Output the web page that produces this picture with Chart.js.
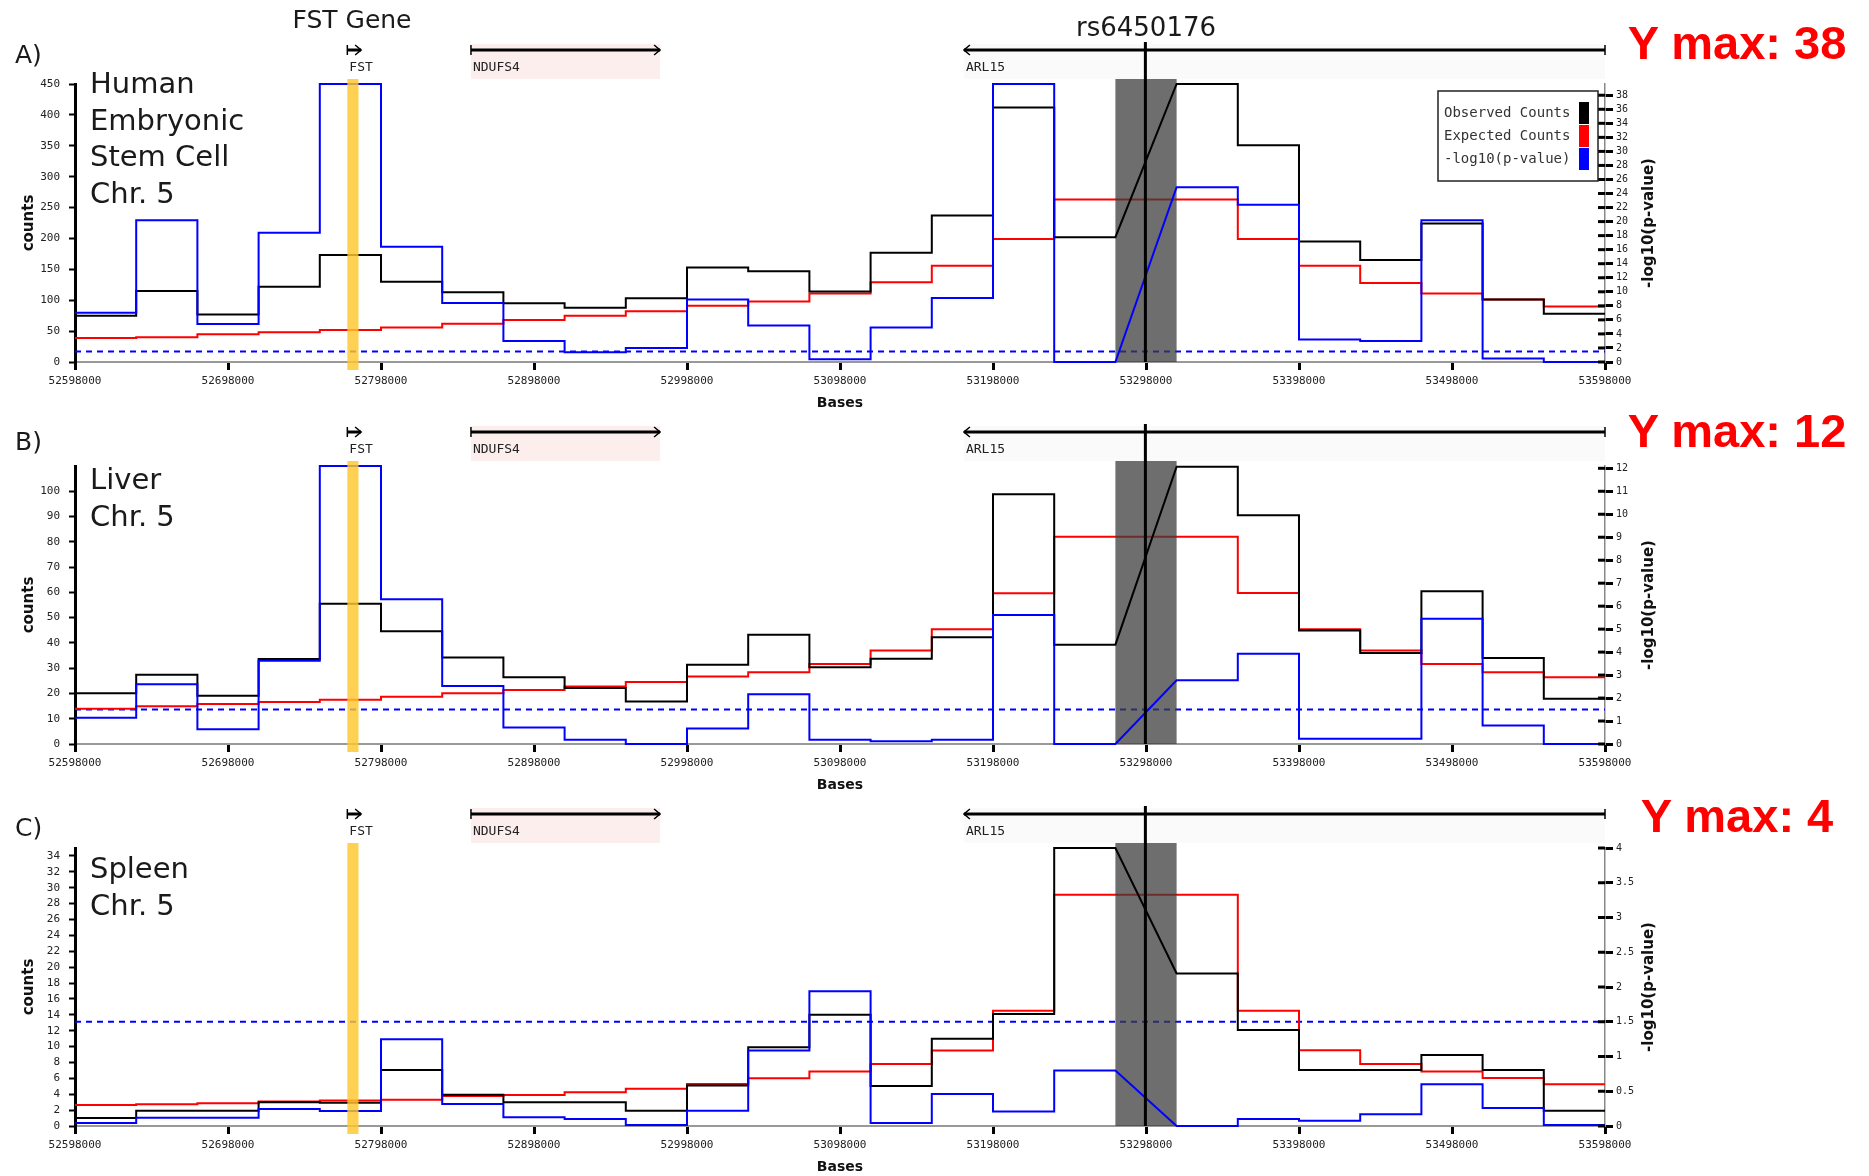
<!DOCTYPE html>
<html>
<head>
<meta charset="utf-8">
<script src="https://cdn.jsdelivr.net/npm/chart.js@4.4.1/dist/chart.umd.min.js"></script>
<style>
  body { margin: 0; width: 1869px; height: 1176px; overflow: hidden; background: #fff; position: relative; }
  canvas { position: absolute; left: 0; }
  .lbl { position: absolute; font-family: "DejaVu Sans", sans-serif; color: #1a1a1a; line-height: 1; white-space: nowrap; }
  .tissue { font-size: 29px; line-height: 36.7px; left: 90px; }
  .ymax { font-family: "Liberation Sans", Arial, sans-serif; font-weight: bold; color: #f00; font-size: 47px; width: 300px; left: 1587px; text-align: center; }
</style>
</head>
<body>
<canvas id="chartA" width="1869" height="412" style="top:0px"></canvas>
<canvas id="chartB" width="1869" height="394" style="top:400px"></canvas>
<canvas id="chartC" width="1869" height="386" style="top:790px"></canvas>

<div class="lbl" style="left:252px;width:200px;text-align:center;top:7px;font-size:25px">FST Gene</div>
<div class="lbl" style="left:1046px;width:200px;text-align:center;top:14px;font-size:26px">rs6450176</div>

<div class="lbl" style="left:15px;top:42px;font-size:25px">A)</div>
<div class="lbl" style="left:15px;top:429px;font-size:25px">B)</div>
<div class="lbl" style="left:15px;top:815px;font-size:25px">C)</div>

<div class="lbl tissue" style="top:65px">Human<br>Embryonic<br>Stem Cell<br>Chr. 5</div>
<div class="lbl tissue" style="top:461px">Liver<br>Chr. 5</div>
<div class="lbl tissue" style="top:850px">Spleen<br>Chr. 5</div>

<div class="lbl ymax" style="top:19px">Y max: 38</div>
<div class="lbl ymax" style="top:407px">Y max: 12</div>
<div class="lbl ymax" style="top:792px">Y max: 4</div>

<script>
  // 25 bins of 40 kb on chr5, bin 17 (the SNP bin) has no value
  const binStarts = [52598000, 52638000, 52678000, 52718000, 52758000, 52798000, 52838000, 52878000,
    52918000, 52958000, 52998000, 53038000, 53078000, 53118000, 53158000, 53198000, 53238000,
    53278000, 53318000, 53358000, 53398000, 53438000, 53478000, 53518000, 53558000];
  const binWidth = 40000;

  const xTicks = [52598000, 52698000, 52798000, 52898000, 52998000, 53098000, 53198000,
    53298000, 53398000, 53498000, 53598000];

  const seriesNames = ['Observed Counts', 'Expected Counts', '-log10(p-value)'];
  const seriesColors = ['#000000', '#ff0000', '#0000ff'];
  const pThreshold = 1.5;

  // A) human embryonic stem cell
  const obsA = [75, 115, 77, 122, 173, 130, 113, 95, 88, 103, 153, 147, 114, 177, 237, 412, 202, null, 450, 351, 195, 165, 224, 101, 78];
  const expA = [39, 40, 45, 48, 52, 56, 62, 68, 75, 82, 91, 98, 111, 129, 156, 199, 263, null, 263, 199, 156, 128, 111, 101, 90];
  const pA = [7.0, 20.2, 5.4, 18.4, 39.6, 16.4, 8.4, 3.0, 1.4, 2.0, 8.9, 5.2, 0.4, 4.9, 9.1, 39.6, 0, null, 24.9, 22.4, 3.2, 3.0, 20.2, 0.5, 0];
  const leftTicksA = [0, 50, 100, 150, 200, 250, 300, 350, 400, 450];
  const rightTicksA = [0, 2, 4, 6, 8, 10, 12, 14, 16, 18, 20, 22, 24, 26, 28, 30, 32, 34, 36, 38];

  // B) liver
  const obsB = [20.1, 27.4, 19.1, 33.6, 55.5, 44.6, 34.2, 26.4, 22.2, 16.8, 31.4, 43.2, 30.4, 33.7, 42.2, 98.8, 39.3, null, 109.7, 90.5, 44.9, 36, 60.4, 34, 17.9];
  const expB = [13.9, 14.9, 15.8, 16.6, 17.5, 18.7, 20.1, 21.4, 22.8, 24.5, 26.7, 28.4, 31.7, 37, 45.4, 59.6, 82, null, 82, 59.7, 45.4, 37, 31.7, 28.4, 26.4];
  const pB = [1.14, 2.6, 0.64, 3.62, 12.1, 6.3, 2.52, 0.72, 0.19, 0, 0.67, 2.16, 0.19, 0.12, 0.19, 5.62, 0, null, 2.77, 3.93, 0.23, 0.23, 5.45, 0.81, 0];
  const leftTicksB = [0, 10, 20, 30, 40, 50, 60, 70, 80, 90, 100];
  const rightTicksB = [0, 1, 2, 3, 4, 5, 6, 7, 8, 9, 10, 11, 12];

  // C) spleen
  const obsC = [1.0, 1.93, 1.93, 2.98, 2.94, 7.06, 3.95, 2.98, 2.98, 1.93, 5.09, 9.9, 14.0, 5.04, 10.97, 14.1, 35.0, null, 19.2, 12.1, 7.06, 7.06, 8.95, 7.06, 1.93];
  const expC = [2.65, 2.73, 2.86, 3.1, 3.2, 3.32, 3.78, 3.9, 4.25, 4.7, 5.3, 6.0, 6.85, 7.8, 9.5, 14.5, 29.1, null, 29.1, 14.5, 9.55, 7.8, 6.85, 6.05, 5.25];
  const pC = [0.043, 0.12, 0.12, 0.245, 0.216, 1.25, 0.317, 0.125, 0.1, 0.014, 0.22, 1.085, 1.94, 0.043, 0.46, 0.21, 0.8, null, 0, 0.1, 0.077, 0.17, 0.6, 0.26, 0.014];
  const leftTicksC = [0, 2, 4, 6, 8, 10, 12, 14, 16, 18, 20, 22, 24, 26, 28, 30, 32, 34];
  const rightTicksC = [0, 0.5, 1, 1.5, 2, 2.5, 3, 3.5, 4];

  // gene track + highlighted regions
  const geneNames = ['FST', 'NDUFS4', 'ARL15'];
  const geneStarts = [52776000, 52856800, 53179000];
  const geneEnds = [52785000, 52980400, 53598000];
  const geneStrands = [1, 1, -1];
  const geneShades = [null, '#fdeeee', '#fafafa'];
  const fstBand = [52776000, 52783300];
  const snpBin = [53278000, 53318000];
  const snpPos = 53297600;

  function stepPoints(values) {
    const pts = [];
    values.forEach((v, i) => {
      if (v === null) return;
      pts.push({ x: binStarts[i], y: v }, { x: binStarts[i] + binWidth, y: v });
    });
    return pts;
  }

  const overlay = {
    id: 'overlay',
    // grey SNP bin goes over the expected line but under observed / p-value
    beforeDatasetDraw(chart, args) {
      if (args.index !== 1) return;
      const { ctx, chartArea: a } = chart;
      const x = chart.scales.x;
      const x0 = x.getPixelForValue(snpBin[0]), x1 = x.getPixelForValue(snpBin[1]);
      ctx.save();
      ctx.fillStyle = 'rgba(60, 60, 60, 0.74)';
      ctx.fillRect(x0, a.top - 5, x1 - x0, a.bottom - a.top + 5);
      ctx.restore();
    },
    afterDatasetsDraw(chart, args, opts) {
      const { ctx, chartArea: a } = chart;
      const x = chart.scales.x, y2 = chart.scales.y2;
      const px = v => x.getPixelForValue(v);
      ctx.save();

      // genes
      const gy = a.top - 34;
      ctx.font = '13px "DejaVu Sans Mono"';
      ctx.textBaseline = 'middle';
      geneNames.forEach((name, i) => {
        const x0 = px(geneStarts[i]), x1 = px(geneEnds[i]);
        if (geneShades[i]) {
          ctx.fillStyle = geneShades[i];
          ctx.fillRect(x0, gy - 6, x1 - x0, 35);
        }
        ctx.strokeStyle = '#000';
        ctx.lineWidth = 3;
        ctx.beginPath(); ctx.moveTo(x0, gy); ctx.lineTo(x1, gy); ctx.stroke();
        const fwd = geneStrands[i] > 0;
        const tip = fwd ? x1 : x0, tail = fwd ? x0 : x1, d = fwd ? -6 : 6;
        ctx.lineWidth = 1.5;
        ctx.beginPath();
        ctx.moveTo(tip + d, gy - 5); ctx.lineTo(tip, gy); ctx.lineTo(tip + d, gy + 5);
        ctx.moveTo(tail, gy - 5); ctx.lineTo(tail, gy + 5);
        ctx.stroke();
        ctx.fillStyle = '#222';
        ctx.fillText(name, x0 + 2, gy + 18);
      });

      // FST band and SNP line
      ctx.fillStyle = 'rgba(255, 199, 44, 0.82)';
      ctx.fillRect(px(fstBand[0]), a.top - 5, px(fstBand[1]) - px(fstBand[0]), a.bottom - a.top + 13);
      ctx.strokeStyle = '#000';
      ctx.lineWidth = 3;
      ctx.beginPath(); ctx.moveTo(px(snpPos), a.top - 42); ctx.lineTo(px(snpPos), a.bottom); ctx.stroke();

      // inner half of the right axis ticks
      y2.ticks.forEach(t => {
        const yy = y2.getPixelForValue(t.value);
        ctx.beginPath(); ctx.moveTo(a.right - 7, yy); ctx.lineTo(a.right, yy); ctx.stroke();
      });

      // right axis title, reading upward
      ctx.save();
      ctx.translate(a.right + 44, (a.top + a.bottom) / 2);
      ctx.rotate(-Math.PI / 2);
      ctx.font = 'bold 15px "DejaVu Sans"';
      ctx.textAlign = 'center';
      ctx.fillStyle = '#111';
      ctx.fillText('-log10(p-value)', 0, 0);
      ctx.restore();

      if (opts.legend) {
        const bx = a.right - 167, by = a.top + 7, bw = 160, bh = 90;
        ctx.fillStyle = '#fff';
        ctx.fillRect(bx, by, bw, bh);
        ctx.strokeStyle = '#222';
        ctx.lineWidth = 1.5;
        ctx.strokeRect(bx, by, bw, bh);
        ctx.font = '14px "DejaVu Sans Mono"';
        ctx.textAlign = 'left';
        seriesNames.forEach((n, i) => {
          const ry = by + 11 + i * 23;
          ctx.fillStyle = '#333';
          ctx.fillText(n, bx + 6, ry + 11);
          ctx.fillStyle = seriesColors[i];
          ctx.fillRect(bx + 141, ry, 10, 22);
        });
      }
      ctx.restore();
    }
  };

  const tickFont = { family: 'DejaVu Sans Mono', size: 11 };

  function makeChart(id, obs, exp, pval, leftMax, rightMax, leftTicks, rightTicks, padTop, showLegend) {
    const line = (label, data, color, axis) => ({
      label, data, borderColor: color, borderWidth: 2, pointRadius: 0,
      fill: false, tension: 0, yAxisID: axis, clip: false
    });
    new Chart(document.getElementById(id), {
      type: 'line',
      data: {
        datasets: [
          line(seriesNames[2], stepPoints(pval), seriesColors[2], 'y2'),
          line(seriesNames[0], stepPoints(obs), seriesColors[0], 'y'),
          line(seriesNames[1], stepPoints(exp), seriesColors[1], 'y'),
          Object.assign(line('threshold', [{ x: xTicks[0], y: pThreshold }, { x: xTicks[xTicks.length - 1], y: pThreshold }], '#0000ff', 'y2'), { borderDash: [6, 5] })
        ]
      },
      options: {
        responsive: false,
        animation: false,
        layout: { padding: { top: padTop, right: 194, left: 0, bottom: 0 } },
        plugins: {
          legend: { display: false },
          tooltip: { enabled: false },
          overlay: { legend: showLegend }
        },
        scales: {
          x: {
            type: 'linear',
            min: xTicks[0],
            max: xTicks[xTicks.length - 1],
            afterBuildTicks: s => { s.ticks = xTicks.map(v => ({ value: v })); },
            afterFit: s => { s.height = 50; },
            ticks: { callback: v => String(v), font: tickFont, color: '#222', padding: 5, maxRotation: 0, autoSkip: false },
            grid: { drawOnChartArea: false, tickLength: 8, tickWidth: 3, tickColor: '#000' },
            border: { color: '#999', width: 2 },
            title: { display: true, text: 'Bases', font: { family: 'DejaVu Sans', size: 14, weight: 'bold' }, color: '#111', padding: 0 }
          },
          y: {
            position: 'left',
            min: 0,
            max: leftMax,
            afterBuildTicks: s => { s.ticks = leftTicks.map(v => ({ value: v })); },
            afterFit: s => { s.width = 75; },
            ticks: { callback: v => String(v), font: tickFont, color: '#222', padding: 9, autoSkip: false },
            grid: { drawOnChartArea: false, tickLength: 6, tickWidth: 2, tickColor: '#000' },
            border: { color: '#000', width: 3 },
            title: { display: true, text: 'counts', font: { family: 'DejaVu Sans', size: 15, weight: 'bold' }, color: '#111', padding: { top: 20, bottom: 0 } }
          },
          y2: {
            position: 'right',
            min: 0,
            max: rightMax,
            afterBuildTicks: s => { s.ticks = rightTicks.map(v => ({ value: v })); },
            afterFit: s => { s.width = 70; },
            ticks: { callback: v => String(v), font: { family: 'DejaVu Sans Mono', size: 10 }, color: '#222', padding: 3, autoSkip: false },
            grid: { drawOnChartArea: false, tickLength: 8, tickWidth: 3, tickColor: '#000' },
            border: { color: '#888', width: 1.5 }
          }
        }
      },
      plugins: [overlay]
    });
  }

  makeChart('chartA', obsA, expA, pA, 450, 39.6, leftTicksA, rightTicksA, 84, true);
  makeChart('chartB', obsB, expB, pB, 110, 12.1, leftTicksB, rightTicksB, 66, false);
  makeChart('chartC', obsC, expC, pC, 35, 4, leftTicksC, rightTicksC, 58, false);
</script>
</body>
</html>
